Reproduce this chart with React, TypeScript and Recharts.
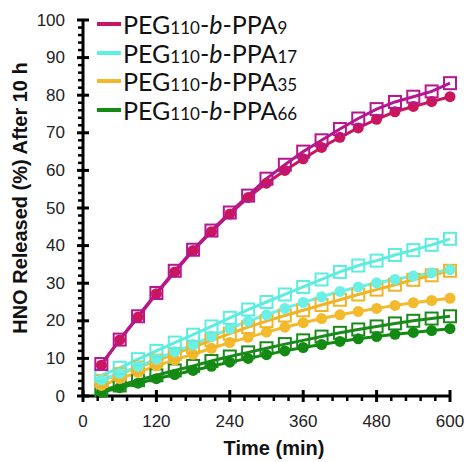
import React from 'react';
import { LineChart, Line, XAxis, YAxis } from 'recharts';

const times = [30, 60, 90, 120, 150, 180, 210, 240, 270, 300, 330, 360, 390, 420, 450, 480, 510, 540, 570, 600];

const ppa9Circle = [8.2, 14.9, 21.0, 27.2, 33.0, 38.7, 43.7, 48.4, 52.8, 56.6, 60.0, 63.1, 66.1, 68.8, 71.3, 73.6, 75.6, 77.0, 78.3, 79.6];
const ppa9Square = [8.5, 15.0, 21.2, 27.4, 33.3, 38.9, 44.0, 48.8, 53.3, 57.8, 61.5, 65.0, 68.0, 71.0, 73.8, 76.3, 78.2, 79.6, 81.0, 83.2];
const ppa17Circle = [4.3, 6.0, 7.9, 9.8, 11.8, 13.6, 15.8, 17.9, 19.9, 21.6, 23.3, 24.9, 26.4, 27.8, 29.0, 30.1, 31.0, 31.9, 32.8, 33.6];
const ppa17Square = [5.5, 7.5, 9.8, 12.0, 14.2, 16.3, 18.5, 20.8, 23.0, 25.0, 27.0, 29.0, 31.0, 33.0, 34.7, 36.0, 37.5, 38.8, 40.2, 41.8];
const ppa35Circle = [2.8, 4.6, 6.3, 8.0, 9.6, 11.1, 12.7, 14.2, 15.6, 17.0, 18.3, 19.5, 20.6, 21.6, 22.5, 23.3, 24.1, 24.8, 25.4, 26.0];
const ppa35Square = [4.0, 5.8, 7.6, 9.4, 11.2, 13.0, 14.8, 16.6, 18.3, 19.9, 21.4, 22.8, 24.2, 25.6, 27.0, 28.3, 29.6, 30.9, 32.1, 33.3];
const ppa66Circle = [1.0, 2.2, 3.4, 4.6, 5.7, 6.8, 7.9, 9.0, 10.0, 11.0, 12.0, 12.9, 13.7, 14.5, 15.2, 15.8, 16.4, 16.9, 17.4, 17.9];
const ppa66Square = [1.5, 2.8, 4.2, 5.5, 6.8, 8.0, 9.3, 10.5, 11.6, 12.7, 13.8, 14.8, 15.8, 16.8, 17.7, 18.5, 19.3, 20.0, 20.6, 21.2];

const xTicks = Array.from({ length: 26 }, (_, i) => i * 24);
const yTicks = Array.from({ length: 51 }, (_, i) => i * 2);

const legendItems = [
  { sub: '9', color: '#C8175E' },
  { sub: '17', color: '#5DEFE2' },
  { sub: '35', color: '#F2B82A' },
  { sub: '66', color: '#138A13' },
];

const series = [
  { key: 'g66c', vals: ppa66Circle, color: '#128A12', shape: 'circle' },
  { key: 'g66s', vals: ppa66Square, color: '#1A8A1A', shape: 'square' },
  { key: 'y35c', vals: ppa35Circle, color: '#F2BA2C', shape: 'circle' },
  { key: 'y35s', vals: ppa35Square, color: '#F0B429', shape: 'square' },
  { key: 'c17c', vals: ppa17Circle, color: '#6CF0E6', shape: 'circle' },
  { key: 'c17s', vals: ppa17Square, color: '#5CEDE0', shape: 'square' },
  { key: 'm9c', vals: ppa9Circle, color: '#C9165E', shape: 'circle' },
  { key: 'm9s', vals: ppa9Square, color: '#B5178E', shape: 'square' },
];

const data = times.map((t, i) => {
  const row: any = { t };
  series.forEach((s) => { row[s.key] = s.vals[i]; });
  return row;
});

const FONT = '"Liberation Sans", Arial, sans-serif';

const YTick = (props: any) => {
  const { x, y, payload } = props;
  const v = payload.value;
  const major = v % 10 === 0;
  return (
    <g>
      {major ? (
        <line x1={x - 6} x2={x + 6} y1={y} y2={y} stroke="#000" strokeWidth={3} />
      ) : (
        <line x1={x - 5} x2={x} y1={y} y2={y} stroke="#000" strokeWidth={2.5} />
      )}
      {major && (
        <text x={x - 18} y={y} textAnchor="end" dominantBaseline="central" fontSize={17} fontFamily={FONT} fill="#222">
          {v}
        </text>
      )}
    </g>
  );
};

const XTick = (props: any) => {
  const { x, y, payload } = props;
  const v = payload.value;
  const major = v % 120 === 0;
  return (
    <g>
      {major ? (
        <line x1={x} x2={x} y1={y - 6} y2={y + 6} stroke="#000" strokeWidth={3} />
      ) : (
        <line x1={x} x2={x} y1={y} y2={y + 5} stroke="#000" strokeWidth={2.5} />
      )}
      {major && (
        <text x={x} y={y + 25} textAnchor="middle" dominantBaseline="central" fontSize={17} fontFamily={FONT} fill="#222">
          {v}
        </text>
      )}
    </g>
  );
};

const makeSquare = (color: string) => (p: any) => {
  const { cx, cy, index } = p;
  if (cx == null || cy == null) return <g key={`s${index}`} />;
  return <rect key={`s${index}`} x={cx - 6} y={cy - 6} width={12} height={12} fill="none" stroke={color} strokeWidth={2} />;
};

const makeCircle = (color: string) => (p: any) => {
  const { cx, cy, index } = p;
  if (cx == null || cy == null) return <g key={`c${index}`} />;
  return <circle key={`c${index}`} cx={cx} cy={cy} r={5.5} fill={color} stroke="none" />;
};

export default function App() {
  return (
    <div style={{ position: 'absolute', left: 0, top: 0, width: 467, height: 462, background: '#fff' }}>
      <LineChart width={467} height={462} data={data} margin={{ top: 20, right: 17, bottom: 46, left: 63 }}>
        <XAxis
          dataKey="t"
          type="number"
          domain={[0, 600]}
          ticks={xTicks}
          interval={0}
          tickSize={0}
          tickMargin={0}
          tick={<XTick />}
          axisLine={{ stroke: '#000', strokeWidth: 3 }}
          tickLine={false}
          height={20}
        />
        <YAxis
          type="number"
          domain={[0, 100]}
          ticks={yTicks}
          interval={0}
          tickSize={0}
          tickMargin={0}
          tick={<YTick />}
          axisLine={{ stroke: '#000', strokeWidth: 3 }}
          tickLine={false}
          width={20}
        />
        {series.map((s) => (
          <Line
            key={s.key}
            dataKey={s.key}
            type="linear"
            stroke={s.color}
            strokeWidth={3}
            isAnimationActive={false}
            dot={s.shape === 'square' ? makeSquare(s.color) : makeCircle(s.color)}
            activeDot={false}
          />
        ))}
      </LineChart>
      <div
        style={{
          position: 'absolute', left: 274, top: 448, transform: 'translate(-50%, -50%)',
          fontFamily: FONT, fontWeight: 'bold', fontSize: 20, color: '#111', whiteSpace: 'nowrap',
        }}
      >
        Time (min)
      </div>
      <div
        style={{
          position: 'absolute', left: 20, top: 198, transform: 'translate(-50%, -50%) rotate(-90deg)',
          fontFamily: FONT, fontWeight: 'bold', fontSize: 20, color: '#111', whiteSpace: 'nowrap',
        }}
      >
        HNO Released (%) After 10 h
      </div>
      {legendItems.map((it, i) => (
        <div
          key={it.sub}
          style={{
            position: 'absolute', left: 97, top: 24 + i * 28.7 - 15, height: 30,
            display: 'flex', alignItems: 'center', whiteSpace: 'nowrap',
            fontFamily: 'Lato, "Liberation Sans", sans-serif', fontSize: 25, color: '#111',
          }}
        >
          <span style={{ display: 'inline-block', width: 24, height: 4, background: it.color, marginRight: 2 }} />
          <span>
            PEG<span style={{ fontSize: 17 }}>110</span>-<i>b</i>-PPA<span style={{ fontSize: 17 }}>{it.sub}</span>
          </span>
        </div>
      ))}
    </div>
  );
}
